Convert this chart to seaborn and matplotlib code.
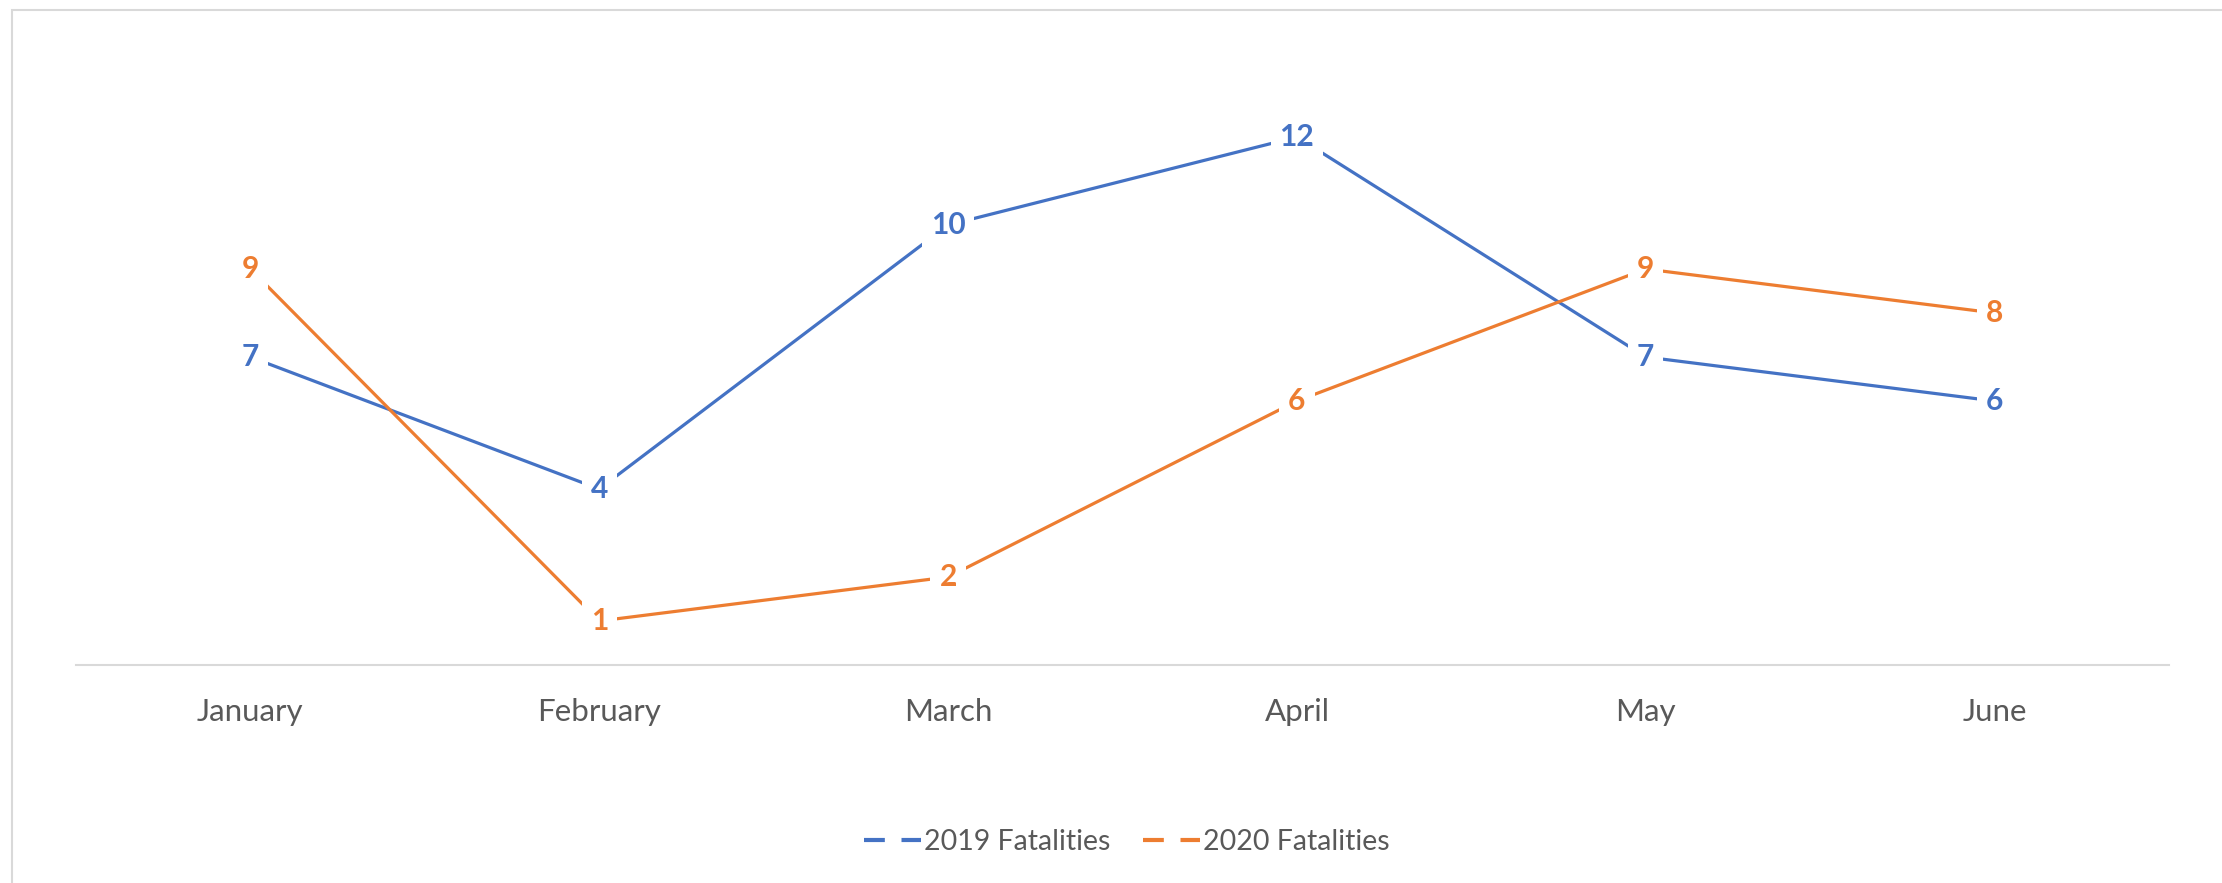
import pandas as pd
import matplotlib.pyplot as plt
import seaborn as sns
from matplotlib.lines import Line2D
from matplotlib.patches import Rectangle

months = ["January", "February", "March", "April", "May", "June"]
fatalities_2019 = [7, 4, 10, 12, 7, 6]
fatalities_2020 = [9, 1, 2, 6, 9, 8]
series_names = ["2019 Fatalities", "2020 Fatalities"]

BLUE = "#4472C4"
ORANGE = "#ED7D31"
GREY_TEXT = "#595959"


def create_fig(out_path="out.png"):
    df = pd.DataFrame({
        "month": months * 2,
        "value": fatalities_2019 + fatalities_2020,
        "series": [series_names[0]] * len(months) + [series_names[1]] * len(months),
    })

    sns.set_theme(style="white")
    plt.rcParams["font.family"] = ["Lato", "DejaVu Sans"]

    fig = plt.figure(figsize=(22.22, 8.83), dpi=100)
    ax = fig.add_axes([76 / 2222, 1 - 665 / 883, (2169 - 76) / 2222, (665 - 49) / 883])

    sns.lineplot(
        data=df, x="month", y="value", hue="series",
        palette=[BLUE, ORANGE], linewidth=2.3, sort=False,
        legend=False, ax=ax,
    )

    colors = [BLUE, ORANGE]
    for vals, col in zip([fatalities_2019, fatalities_2020], colors):
        for i, v in enumerate(vals):
            ax.text(
                i, v, str(v), ha="center", va="center", fontsize=21.5,
                fontweight="bold", color=col, zorder=5,
                bbox=dict(boxstyle="square,pad=0.3", fc="white", ec="none"),
            )

    ax.set_xlim(-0.5, 5.5)
    ax.set_ylim(0, 14)
    ax.set_yticks([])
    ax.set_xlabel("")
    ax.set_ylabel("")
    for side in ["top", "right", "left"]:
        ax.spines[side].set_visible(False)
    ax.spines["bottom"].set_color("#D9D9D9")
    ax.spines["bottom"].set_linewidth(1.5)
    ax.tick_params(axis="x", length=0, pad=24, labelsize=22.5, labelcolor=GREY_TEXT)

    # outer chart frame
    fig.patches.append(Rectangle(
        (12 / 2222, -0.1), 1.2, 1 - 10 / 883 + 0.1, transform=fig.transFigure,
        fill=False, ec="#D9D9D9", lw=1.5, zorder=0,
    ))

    handles = [
        Line2D([0], [0], color=c, lw=3, dashes=(5, 4)) for c in colors
    ]
    fig.legend(
        handles, series_names, loc="center", bbox_to_anchor=(1127 / 2222, 1 - 842 / 883),
        ncol=2, frameon=False, fontsize=20.5, labelcolor=GREY_TEXT,
        handlelength=2.0, handletextpad=0.1, columnspacing=1.15,
    )

    fig.savefig(out_path, dpi=100)


if __name__ == "__main__":
    create_fig()
